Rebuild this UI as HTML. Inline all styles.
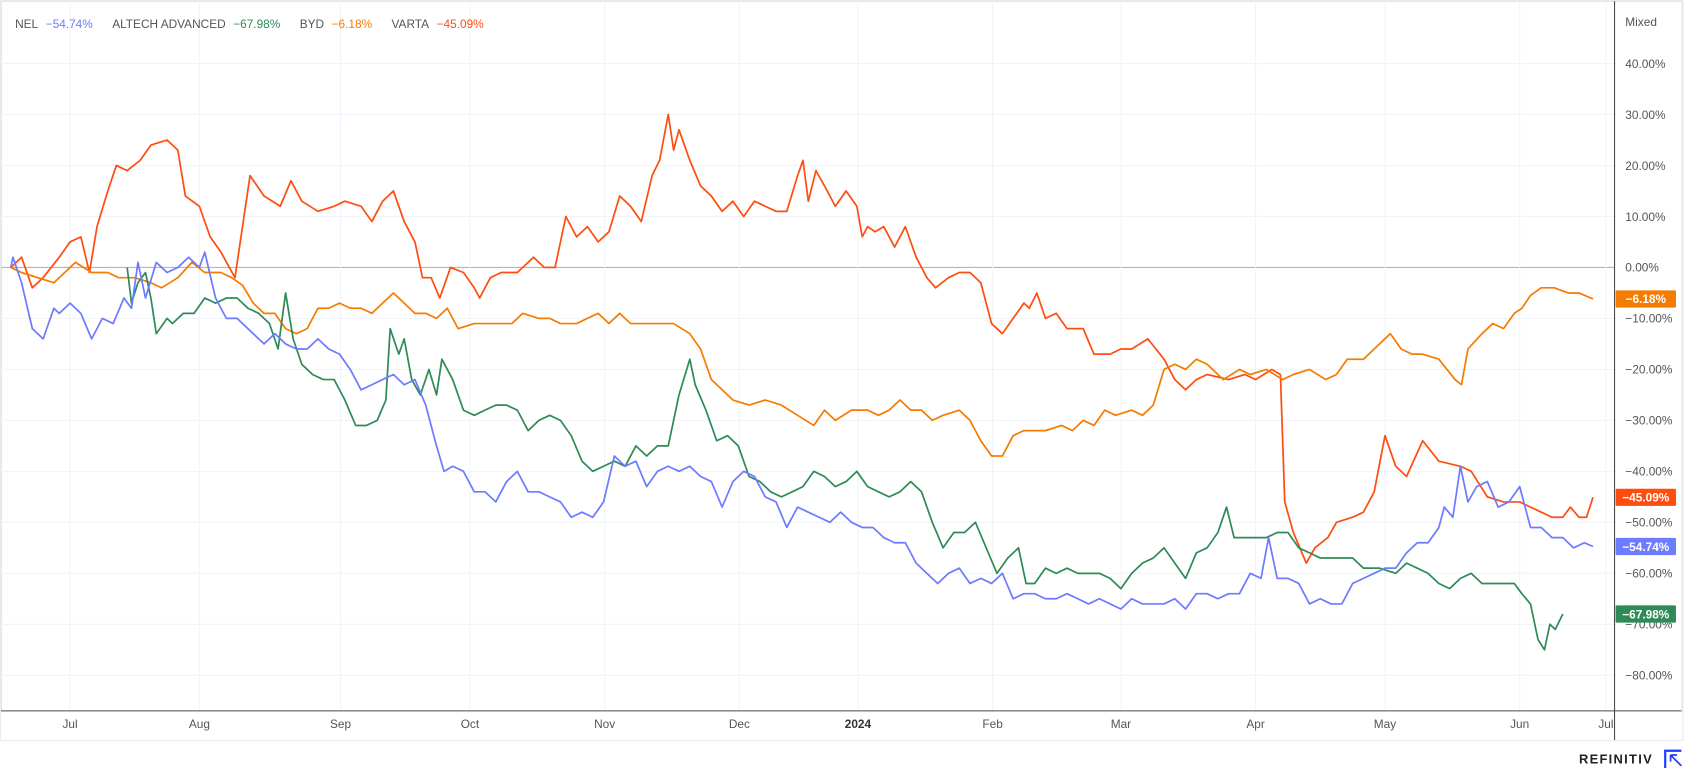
<!DOCTYPE html>
<html><head><meta charset="utf-8">
<style>
html,body{margin:0;padding:0;background:#fff;overflow:hidden;}
#wrap{position:absolute;left:0;top:0;width:1568px;height:713px;transform:scale(1.0778,1.0771);transform-origin:0 0;font-family:"Liberation Sans",sans-serif;}
svg text{font-family:"Liberation Sans",sans-serif;}
</style></head>
<body>
<div id="wrap">
<svg id="chart" width="1568" height="713" xmlns="http://www.w3.org/2000/svg">
  <rect x="1" y="1" width="1560" height="686" fill="#fff" stroke="#e0e3eb" stroke-width="1.5"/>
  <rect x="1" y="661" width="1560" height="26" fill="#fff"/>
  <g id="grid"></g>
  <g id="series"></g>
  <line x1="1" y1="660" x2="1560" y2="660" stroke="#4a4a4a" stroke-width="1"/>
  <line x1="1498" y1="1" x2="1498" y2="687" stroke="#4a4a4a" stroke-width="1"/>
  <g id="yaxis"></g>
  <g id="xaxis"></g>
  <text x="1508" y="24" font-size="11" fill="#555">Mixed</text>
  <g id="legend" font-size="11"></g>
  <g id="badges"></g>
  <text x="1465" y="709" font-size="12" font-weight="bold" fill="#222" letter-spacing="1.2">REFINITIV</text>
  <g>
    <path d="M1545 713 V697 H1560" fill="none" stroke="#1a3cff" stroke-width="2"/>
    <path d="M1550 701 L1560 711 M1550 701 H1556 M1550 701 V707" fill="none" stroke="#1a3cff" stroke-width="1.6"/>
  </g>
</svg>
</div>
<script>
// x domain: session index; y: percent change
const monthLabels = ["Jul","Aug","Sep","Oct","Nov","Dec","2024","Feb","Mar","Apr","May","Jun","Jul"];
const monthSessions = [11,35,61.2,85.2,110.2,135.2,157.2,182.2,206,231,255,280,296];
const yTicks = [40,30,20,10,0,-10,-20,-30,-40,-50,-60,-70,-80];

const nelT = [0,0.4,2,4,6,8,9,11,13,15, 17,19,21,22.4,23.6,25,27,29,31,33, 35,36,38,40,42,44,47,49,51,53, 55,57,59,61,63,65,67,69,71,73, 75,77,79,80.4,82,84,86,88,90,92, 94,96,98,100,102,104,106,108,110,112, 114,116,118,120,122,124,126,128,130,132, 134,136,138,140,142,144,146,148,150,152, 154,156,158,160,162,164,166,168,170,172, 174,176,178,180,182,184,186,188,190,192, 194,196,198,200,202,204,206,208,210,212, 214,216,218,220,222,224,226,228,230,232, 233.4,235,237,239,241,243,245,247,249,251, 253,255,257,259,261,263,265,266,267.6,269, 270.4,272,274,276,278,280,282,284,286,288, 290,292,293.6];
const nelV = [0,2,-3,-12,-14,-8,-9,-7,-9,-14, -10,-11,-6,-8,1,-6,1,-1,0,2, 0,3,-6,-10,-10,-12,-15,-13,-15,-16, -16,-14,-16,-17,-20,-24,-23,-22,-21,-23, -22,-27,-35,-40,-39,-40,-44,-44,-46,-42, -40,-44,-44,-45,-46,-49,-48,-49,-46,-37, -39,-38,-43,-40,-39,-40,-39,-41,-42,-47, -42,-40,-41,-45,-46,-51,-47,-48,-49,-50, -48,-50,-51,-51,-53,-54,-54,-58,-60,-62, -60,-59,-62,-61,-62,-60,-65,-64,-64,-65, -65,-64,-65,-66,-65,-66,-67,-65,-66,-66, -66,-65,-67,-64,-64,-65,-64,-64,-60,-61, -53,-61,-61,-62,-66,-65,-66,-66,-62,-61, -60,-59,-59,-56,-54,-54,-51,-47,-49,-39, -46,-43,-42,-47,-46,-43,-51,-51,-53,-53, -55,-54,-54.74];

const altechT = [21.6,22.4,23.6,25,26,27,29,30,32,34, 36,38,40,42,44,46,48,49.6,51,52.4, 54,56,58,60,62,64,66,68,69.6,70.4, 72,73,74.4,76,77.6,79,80,82,84,86, 88,90,92,94,96,98,100,102,104,106, 108,110,112,114,116,118,120,122,124,126, 127,129,131,133,135,137,139,141,143,145, 147,149,151,153,155,157,159,161,163,165, 167,169,171,173,175,177,179,181,183,185, 187,188.4,190,192,194,196,198,200,202,204, 206,208,210,212,214,216,218,220,222,224, 225.6,227,229,231,233,235,237,239,241,243, 246,249,251,254,257,259,261,263,265,267, 269,271,273,276,279,280.4,282,283.4,284.6,285.6, 286.6,288];
const altechV = [0,-7,-3,-1,-6,-13,-10,-11,-9,-9, -6,-7,-6,-6,-8,-9,-11,-16,-5,-14, -19,-21,-22,-22,-26,-31,-31,-30,-26,-12, -17,-14,-22,-25,-20,-25,-18,-22,-28,-29, -28,-27,-27,-28,-32,-30,-29,-30,-33,-38, -40,-39,-38,-39,-35,-37,-35,-35,-25,-18, -23,-28,-34,-33,-35,-41,-42,-44,-45,-44, -43,-40,-41,-43,-42,-40,-43,-44,-45,-44, -42,-44,-50,-55,-52,-52,-50,-55,-60,-57, -55,-62,-62,-59,-60,-59,-60,-60,-60,-61, -63,-60,-58,-57,-55,-58,-61,-56,-55,-52, -47,-53,-53,-53,-53,-52,-52,-55,-56,-57, -57,-57,-59,-59,-60,-58,-59,-60,-62,-63, -61,-60,-62,-62,-62,-64,-66,-73,-75,-70, -71,-67.98];

const bydT = [0,2,5,8,12,15,18,20,23,26, 28,31,33.6,36,39,41,43,45,47,49, 51,53,55,57,59,61,63,65,67,69, 71,73,75,77,79,81,83,86,90,93, 95,98,100,102,105,107,109,111,113,115, 118,121,123,126,128,130,132,134,137,140, 143,146,149,151,153,156,159,161,163,165, 167,169,171,173,176,178,180,182,184,186, 188,192,195,197,199,201,203,205,208,210, 212,214,216,218,220,222,225,228,230,233, 236,238,241,244,246,248,251,253,256,258, 260,262,265,268,269.2,270.4,273,275,277,279, 280.4,282,284,286.4,289,291,293.6];
const bydV = [0,-1,-2,-3,1,-1,-1,-2,-2,-3, -4,-2,1,-1,-1,-2,-3.5,-7,-9,-9, -12,-13,-12,-8,-8,-7,-8,-8,-9,-7, -5,-7,-9,-9,-10,-8,-12,-11,-11,-11, -9,-10,-10,-11,-11,-10,-9,-11,-9,-11, -11,-11,-11,-13,-16,-22,-24,-26,-27,-26, -27,-29,-31,-28,-30,-28,-28,-29,-28,-26, -28,-28,-30,-29,-28,-30,-34,-37,-37,-33, -32,-32,-31,-32,-30,-31,-28,-29,-28,-29, -27,-20,-19,-20,-18,-19,-22,-20,-21,-20, -22,-21,-20,-22,-21,-18,-18,-16,-13,-16, -17,-17,-18,-22,-23,-16,-13,-11,-12,-9, -8,-5.5,-4,-4,-5,-5,-6.18];

const vartaT = [0,2,4,6,9,11,13,14.6,16,18, 19.6,21.6,24,26,29,31,32.4,35,37,39, 41.6,43,44.4,47,50,52,54,57,60,62, 65,67,69,71,73,75,76.4,78,79.6,81.6, 84,86,87,89,91,94,97,99,101,103, 105,107,109,111,113,115,117,119,120.4,122, 123,124,126,128,130,132,134,136,138,140, 142,144,146,147,148,149.4,151,153,155,157, 158,159,160.4,162,164,166,168,170,171.6,174, 176,178,180,182,184,186,188,189,190.4,192, 194,196,199,201,204,206,208,211,214,216, 218,220,222,226,229,231,234,235.6,236.4,238, 240.4,242,244.4,246,249,251,253,255,257,259, 262,265,269,271,274,277,280,282,284,286, 288,289.4,291,292.4,293.6];
const vartaV = [0,2,-4,-2,2,5,6,-1,8,15, 20,19,21,24,25,23,14,12,6,3, -2,8,18,14,12,17,13,11,12,13, 12,9,13,15,9,5,-2,-2,-6,0, -1,-4,-6,-2,-1,-1,2,0,0,10, 6,8,5,7,14,12,9,18,21,30, 23,27,21,16,14,11,13,10,13,12, 11,11,18,21,13,19,16,12,15,12, 6,8,7,8,4,8,2,-2,-4,-2, -1,-1,-3,-11,-13,-10,-7,-8,-5,-10, -9,-12,-12,-17,-17,-16,-16,-14,-18,-22, -24,-22,-21,-22,-21,-22,-20,-21,-46,-52, -58,-55,-53,-50,-49,-48,-44,-33,-39,-41, -34,-38,-39,-40,-45,-46,-46,-47,-48,-49, -49,-47,-49,-49,-45.09];

const seriesNames = ["NEL","ALTECH ADVANCED","BYD","VARTA"];
const seriesColors = ["#6c7bff","#2e8b57","#f57c00","#ff4d10"];

const NS = "http://www.w3.org/2000/svg";
const xScale = t => 10 + t * 5;
const yScale = v => 248.3 - v * 4.733;
function mk(tag, attrs, parent){ const e=document.createElementNS(NS,tag); for(const k in attrs) e.setAttribute(k,attrs[k]); parent.appendChild(e); return e; }
const fmt = v => (v<0?"\u2212":"") + Math.abs(v).toFixed(2) + "%";

const grid = document.getElementById("grid");
const yaxis = document.getElementById("yaxis");
yTicks.forEach(v=>{
  const y = yScale(v);
  const gl = mk("line",{x1:1,x2:1498,y1:y,y2:y,stroke:v===0?"#b2b5be":"#f0f3fa","stroke-width":1},grid);
  
  
  const tx = mk("text",{x:1508,y:y+4,"font-size":11,fill:"#555"},yaxis);
  tx.textContent = fmt(v);
  
  
});
const xaxis = document.getElementById("xaxis");
monthSessions.forEach((t,i)=>{
  const x = xScale(t);
  const gl = mk("line",{x1:x,x2:x,y1:1,y2:660,stroke:"#f0f3fa","stroke-width":1},grid);
  
  
  const tx = mk("text",{x:x,y:676,"font-size":11,fill:"#555","text-anchor":"middle"},xaxis);
  if(monthLabels[i]==="2024"){ tx.setAttribute("font-weight","bold"); tx.setAttribute("fill","#333"); }
  tx.textContent = monthLabels[i];
  
  
});

const allT = [nelT, altechT, bydT, vartaT];
const allV = [nelV, altechV, bydV, vartaV];
const sg = document.getElementById("series");
const order = [3,2,1,0];
order.forEach(i=>{
  const T = allT[i], V = allV[i];
  const n = Math.min(T.length, V.length);
  let d = "";
  for(let k=0;k<n;k++) d += (k?"L":"M") + xScale(T[k]).toFixed(1) + " " + yScale(V[k]).toFixed(1);
  const p = mk("path",{d:d,fill:"none",stroke:seriesColors[i],"stroke-width":1.6,"stroke-linejoin":"round"},sg);
  
  
});

const lg = document.getElementById("legend");
let lx = 14;
seriesNames.forEach((name,i)=>{
  const last = allV[i][Math.min(allT[i].length, allV[i].length)-1];
  const a = mk("text",{x:lx,y:26,fill:"#555"},lg);
  a.textContent = name;
  
  
  lx += a.getComputedTextLength() + 7;
  const b = mk("text",{x:lx,y:26,fill:seriesColors[i]},lg);
  b.textContent = fmt(last);
  
  
  lx += b.getComputedTextLength() + 18;
});

const bg = document.getElementById("badges");
seriesNames.forEach((name,i)=>{
  const last = allV[i][Math.min(allT[i].length, allV[i].length)-1];
  const y = yScale(last);
  const r = mk("rect",{x:1499,y:y-8,width:56,height:16,fill:seriesColors[i],rx:1},bg);
  
  
  const t = mk("text",{x:1527,y:y+4,"font-size":11,"font-weight":"bold",fill:"#fff","text-anchor":"middle"},bg);
  t.textContent = fmt(last);
  
  
});
</script>
</body></html>
